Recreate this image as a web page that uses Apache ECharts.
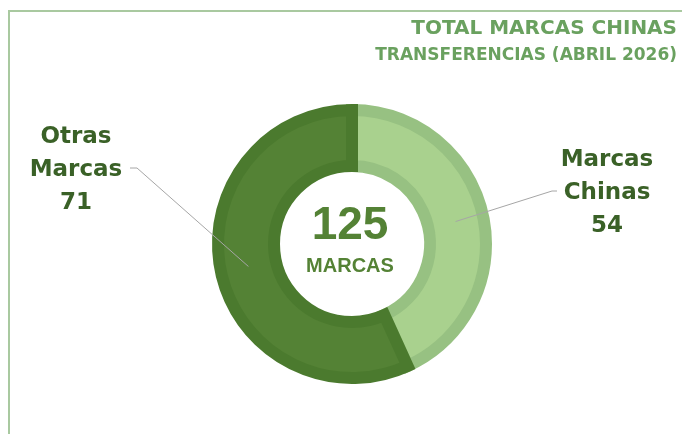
<!DOCTYPE html>
<html>
<head>
<meta charset="utf-8">
<script src="https://cdn.jsdelivr.net/npm/echarts@6/dist/echarts.min.js"></script>
<style>
html, body { margin: 0; padding: 0; background: #fff; }
#main { width: 682px; height: 434px; }
</style>
</head>
<body>
<div id="main"></div>
<script>
// datos
var categories = ['Marcas Chinas', 'Otras Marcas'];
var values = [54, 71];
var titleLines = ['TOTAL MARCAS CHINAS', 'TRANSFERENCIAS (ABRIL 2026)'];
var centerUnit = 'MARCAS';

var sliceColors = ['#a9d18e', '#548235'];
var sliceBorders = ['#97c182', '#4b7a2e'];
// x, y del texto, x del codo, x final, y de la linea
var labelSpots = [[607, 193, 552, 557, 191], [76, 170, 137, 130, 168]];

var total = values.reduce(function (a, b) { return a + b; }, 0);

var myChart = echarts.init(document.getElementById('main'));

var option = {
    backgroundColor: '#fff',
    animation: false,
    title: {
        text: titleLines[0],
        subtext: titleLines[1],
        left: 672,
        top: 13,
        itemGap: 6,
        textAlign: 'right',
        textStyle: {
            fontFamily: 'DejaVu Sans',
            fontWeight: 'bold',
            fontSize: 20,
            lineHeight: 22,
            color: '#6aa15f'
        },
        subtextStyle: {
            fontFamily: 'DejaVu Sans',
            fontWeight: 'bold',
            fontSize: 17,
            lineHeight: 20,
            color: '#6aa15f'
        }
    },
    graphic: [
        { type: 'line', shape: { x1: 8, y1: 11, x2: 682, y2: 11 }, style: { stroke: '#a9c9a0', lineWidth: 2 } },
        { type: 'line', shape: { x1: 9, y1: 10, x2: 9, y2: 434 }, style: { stroke: '#a9c9a0', lineWidth: 2 } },
        {
            type: 'text', x: 350, y: 226, z: 10,
            style: {
                text: String(total), textAlign: 'center', textVerticalAlign: 'middle',
                fontFamily: 'Liberation Sans', fontWeight: 'bold', fontSize: 46, fill: '#548235'
            }
        },
        {
            type: 'text', x: 350, y: 266, z: 10,
            style: {
                text: centerUnit, textAlign: 'center', textVerticalAlign: 'middle',
                fontFamily: 'Liberation Sans', fontWeight: 'bold', fontSize: 20, fill: '#548235'
            }
        }
    ],
    series: [
        {
            name: 'anillo',
            type: 'pie',
            z: 1,
            center: [352, 244],
            radius: [78, 134],
            startAngle: 90,
            clockwise: true,
            silent: true,
            label: { show: false },
            labelLine: { show: false },
            itemStyle: { borderWidth: 12, borderJoin: 'miter' },
            data: categories.map(function (c, i) {
                return {
                    name: c,
                    value: values[i],
                    itemStyle: { color: sliceColors[i], borderColor: sliceBorders[i] }
                };
            })
        },
        {
            name: 'etiquetas',
            type: 'pie',
            z: 5,
            center: [352, 244],
            radius: [0, 106],
            startAngle: 90,
            clockwise: true,
            silent: true,
            itemStyle: { color: 'rgba(0,0,0,0)' },
            label: {
                show: true,
                formatter: function (p) {
                    return p.name.replace(' ', '\n') + '\n' + p.value;
                },
                fontFamily: 'DejaVu Sans',
                fontWeight: 'bold',
                fontSize: 23,
                lineHeight: 33,
                color: '#3a6127',
                align: 'center'
            },
            labelLine: {
                show: true,
                lineStyle: { color: '#a6a6a6', width: 1 }
            },
            labelLayout: function (p) {
                var s = labelSpots[p.dataIndex];
                var start = p.labelLinePoints ? p.labelLinePoints[0] : [s[2], s[4]];
                return {
                    x: s[0],
                    y: s[1],
                    align: 'center',
                    verticalAlign: 'middle',
                    labelLinePoints: [start, [s[2], s[4]], [s[3], s[4]]]
                };
            },
            data: categories.map(function (c, i) {
                return { name: c, value: values[i] };
            })
        }
    ]
};

myChart.setOption(option, true);
</script>
</body>
</html>
